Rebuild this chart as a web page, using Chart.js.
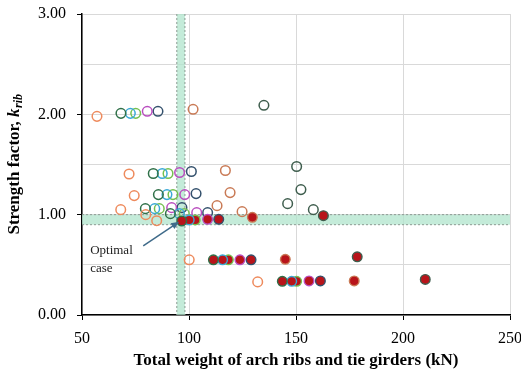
<!DOCTYPE html>
<html>
<head>
<meta charset="utf-8">
<script src="https://cdn.jsdelivr.net/npm/chart.js@4/dist/chart.umd.min.js"></script>
<style>
  html, body { margin: 0; padding: 0; background: #fff; }
  #wrap { width: 521px; height: 372px; }
</style>
</head>
<body>
<div id="wrap"><canvas id="c" width="521" height="372"></canvas></div>
<script>
// Total weight of arch ribs and tie girders (kN) and strength factor k_rib, one group per design family
const groupNames  = ['Group 1', 'Group 2', 'Group 3', 'Group 4', 'Group 5', 'Group 6', 'Group 7', 'Group 8'];
const groupColors = ['#ee8a5c', '#2f7048', '#3aa9d6', '#74c04f', '#b94dbf', '#33506c', '#c97a55', '#3e5d4d'];

const weight1 = [57.0, 72.0, 74.4, 68.1, 79.8, 84.9, 100.1, 132.1];
const kRib1   = [1.98, 1.405, 1.19, 1.05, 1.00, 0.94, 0.55, 0.33];
const weight2 = [68.2, 83.3, 85.7, 79.6, 91.3, 96.6, 111.4, 143.6];
const kRib2   = [2.01, 1.41, 1.20, 1.06, 1.01, 0.937, 0.55, 0.336];
const weight3 = [72.6, 87.5, 89.7, 84.0, 95.5, 100.1, 115.7, 148.0];
const kRib3   = [2.01, 1.41, 1.20, 1.06, 1.01, 0.947, 0.55, 0.336];
const weight4 = [75.1, 90.2, 92.5, 86.1, 97.8, 102.9, 118.4, 150.3];
const kRib4   = [2.01, 1.41, 1.20, 1.06, 1.01, 0.947, 0.55, 0.336];
const weight5 = [80.5, 95.6, 98.0, 91.9, 103.6, 108.7, 123.8, 156.1];
const kRib5   = [2.03, 1.42, 1.20, 1.07, 1.02, 0.954, 0.55, 0.34];
const weight6 = [85.5, 101.1, 103.3, 96.7, 108.7, 113.9, 129.0, 161.4];
const kRib6   = [2.03, 1.43, 1.21, 1.07, 1.02, 0.954, 0.55, 0.34];
const weight7 = [101.9, 117.0, 119.2, 113.1, 124.8, 129.6, 145.0, 177.2];
const kRib7   = [2.05, 1.44, 1.22, 1.09, 1.03, 0.974, 0.555, 0.34];
const weight8 = [135.0, 150.3, 152.3, 146.1, 158.1, 162.8, 178.6, 210.4];
const kRib8   = [2.09, 1.48, 1.25, 1.11, 1.05, 0.99, 0.58, 0.355];

// 1 = feasible design (solid marker), 0 = not feasible (hollow marker)
const feasible1 = [0, 0, 0, 0, 0, 0, 0, 0];
const feasibleN = [0, 0, 0, 0, 0, 1, 1, 1];

const weights   = [weight1, weight2, weight3, weight4, weight5, weight6, weight7, weight8];
const kRibs     = [kRib1, kRib2, kRib3, kRib4, kRib5, kRib6, kRib7, kRib8];
const feasibles = [feasible1, feasibleN, feasibleN, feasibleN, feasibleN, feasibleN, feasibleN, feasibleN];

// Target ranges shown as shaded bands
const weightBand = [94.3, 98.1];
const kRibBand   = [0.90, 1.00];

// Annotation for the chosen design
const optimalPoint = { x: 95.4, y: 0.93 };
const optimalTail  = { x: 78.6, y: 0.69 };
const optimalText  = ['Optimal', 'case'];
const optimalTextAt = { x: 53.8, y: 0.61 };

const xTicks = { min: 50, max: 250, step: 50 };
const yTicks = { min: 0, max: 3, step: 0.5 };

const solidFill = '#b8141a';
const serif = "'Liberation Serif', 'Times New Roman', serif";

const datasets = groupNames.map((name, i) => ({
  label: name,
  data: weights[i].map((w, j) => ({ x: w, y: kRibs[i][j] })),
  borderColor: groupColors[i],
  backgroundColor: feasibles[i].map(f => f ? solidFill : 'rgba(255,255,255,0)'),
  pointBorderWidth: feasibles[i].map(f => f ? 1.4 : 1.5),
  pointRadius: 4.8,
  pointHoverRadius: 4.8,
  showLine: false
}));

const bandPlugin = {
  id: 'bands',
  beforeDatasetsDraw(chart) {
    const { ctx, chartArea: a, scales: { x, y } } = chart;
    const x1 = x.getPixelForValue(weightBand[0]), x2 = x.getPixelForValue(weightBand[1]);
    const y1 = y.getPixelForValue(kRibBand[1]), y2 = y.getPixelForValue(kRibBand[0]);
    ctx.save();
    ctx.fillStyle = 'rgba(176, 228, 204, 0.75)';
    ctx.fillRect(a.left, y1, a.right - a.left, y2 - y1);
    ctx.fillRect(x1, a.top, x2 - x1, a.bottom - a.top);
    ctx.strokeStyle = '#8c9a92';
    ctx.lineWidth = 1;
    ctx.setLineDash([2, 2]);
    ctx.beginPath();
    ctx.moveTo(a.left, y1); ctx.lineTo(a.right, y1);
    ctx.moveTo(a.left, y2); ctx.lineTo(a.right, y2);
    ctx.moveTo(x1, a.top); ctx.lineTo(x1, a.bottom);
    ctx.moveTo(x2, a.top); ctx.lineTo(x2, a.bottom);
    ctx.stroke();
    ctx.restore();
  },
  afterDatasetsDraw(chart) {
    const { ctx, scales: { x, y } } = chart;
    const tx = x.getPixelForValue(optimalTail.x), ty = y.getPixelForValue(optimalTail.y);
    const hx = x.getPixelForValue(optimalPoint.x), hy = y.getPixelForValue(optimalPoint.y);
    const ang = Math.atan2(hy - ty, hx - tx);
    ctx.save();
    ctx.strokeStyle = '#3f6b8a';
    ctx.fillStyle = '#3f6b8a';
    ctx.lineWidth = 1.5;
    ctx.beginPath();
    ctx.moveTo(tx, ty);
    ctx.lineTo(hx - 6 * Math.cos(ang), hy - 6 * Math.sin(ang));
    ctx.stroke();
    ctx.beginPath();
    ctx.moveTo(hx, hy);
    ctx.lineTo(hx - 8 * Math.cos(ang) + 3.5 * Math.sin(ang), hy - 8 * Math.sin(ang) - 3.5 * Math.cos(ang));
    ctx.lineTo(hx - 8 * Math.cos(ang) - 3.5 * Math.sin(ang), hy - 8 * Math.sin(ang) + 3.5 * Math.cos(ang));
    ctx.closePath();
    ctx.fill();

    ctx.fillStyle = '#222';
    ctx.font = '13px ' + serif;
    ctx.textAlign = 'left';
    ctx.textBaseline = 'alphabetic';
    const lx = x.getPixelForValue(optimalTextAt.x), ly = y.getPixelForValue(optimalTextAt.y);
    optimalText.forEach((t, i) => ctx.fillText(t, lx, ly + i * 18));

    // y-axis title with italic subscript
    const a = chart.chartArea;
    ctx.fillStyle = '#000';
    ctx.translate(15, (a.top + a.bottom) / 2);
    ctx.rotate(-Math.PI / 2);
    const part1 = 'Strength factor, ';
    const part2 = 'k';
    const part3 = 'rib';
    ctx.font = 'bold 17px ' + serif;
    const w1 = ctx.measureText(part1).width;
    ctx.font = 'bold italic 17px ' + serif;
    const w2 = ctx.measureText(part2).width;
    ctx.font = 'bold italic 12px ' + serif;
    const w3 = ctx.measureText(part3).width;
    let sx = -(w1 + w2 + w3) / 2;
    ctx.textBaseline = 'middle';
    ctx.font = 'bold 17px ' + serif;
    ctx.fillText(part1, sx, 0);
    sx += w1;
    ctx.font = 'bold italic 17px ' + serif;
    ctx.fillText(part2, sx, 0);
    sx += w2;
    ctx.font = 'bold italic 12px ' + serif;
    ctx.fillText(part3, sx + 0.5, 4);
    ctx.restore();
  }
};

new Chart(document.getElementById('c'), {
  type: 'scatter',
  data: { datasets },
  options: {
    responsive: false,
    animation: false,
    layout: { padding: { top: 14, right: 11, left: 0, bottom: 0 } },
    plugins: { legend: { display: false }, tooltip: { enabled: false } },
    scales: {
      x: {
        type: 'linear',
        min: xTicks.min, max: xTicks.max,
        ticks: { stepSize: xTicks.step, color: '#000', font: { family: serif, size: 16 }, padding: 9, maxRotation: 0 },
        grid: { color: '#d9d9d9', lineWidth: 1, tickLength: 5, tickColor: '#000' },
        border: { color: '#000', width: 1.5 },
        title: { display: true, text: 'Total weight of arch ribs and tie girders (kN)', color: '#000',
                 font: { family: serif, size: 17, weight: 'bold' }, padding: { top: 0, bottom: 1 } },
        afterFit(s) { s.height = 57; s.paddingLeft = 0; s.paddingRight = 0; }
      },
      y: {
        type: 'linear',
        min: yTicks.min, max: yTicks.max,
        ticks: {
          stepSize: yTicks.step, color: '#000', font: { family: serif, size: 16 }, padding: 11,
          callback: v => Number.isInteger(v) ? v.toFixed(2) : ''
        },
        grid: {
          color: '#d9d9d9', lineWidth: 1, tickLength: 5,
          tickColor: c => (c.tick && Number.isInteger(c.tick.value)) ? '#000' : 'rgba(0,0,0,0)'
        },
        border: { color: '#000', width: 1.5 },
        afterFit(s) { s.width = 82; s.paddingTop = 0; s.paddingBottom = 0; }
      }
    }
  },
  plugins: [bandPlugin]
});
</script>
</body>
</html>
